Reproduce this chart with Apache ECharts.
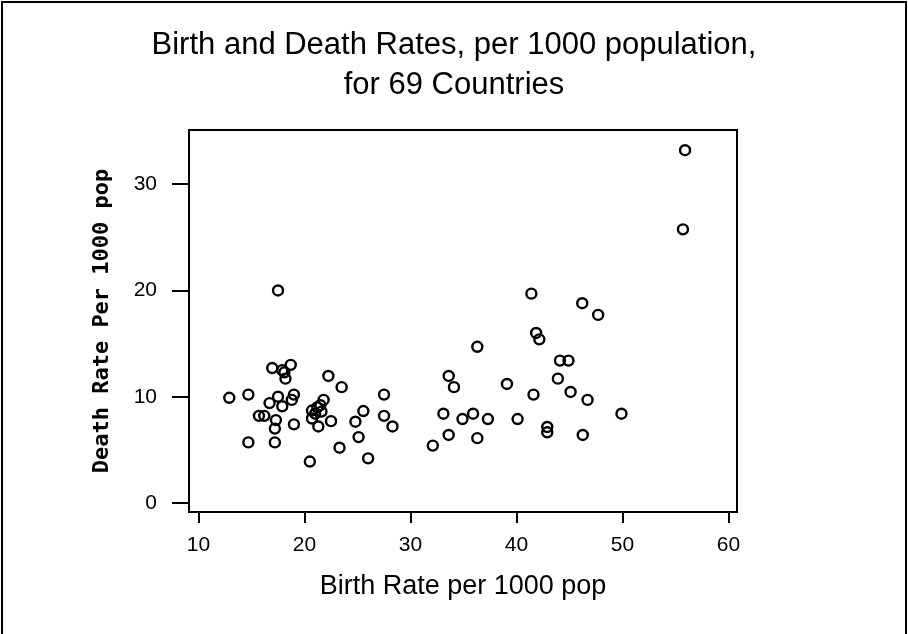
<!DOCTYPE html>
<html>
<head>
<meta charset="utf-8">
<script src="https://cdn.jsdelivr.net/npm/echarts@6/dist/echarts.min.js"></script>
<style>
html,body{margin:0;padding:0;background:#fff;}
#chart{width:908px;height:634px;}
</style>
</head>
<body>
<div id="chart"></div>
<script>
const titleLines = ["Birth and Death Rates, per 1000 population,", "for 69 Countries"];
const xTitle = "Birth Rate per 1000 pop";
const yTitle = "Death Rate Per 1000 pop";
const xTicks = [10, 20, 30, 40, 50, 60];
const yTicks = [0, 10, 20, 30];
const birthRate = [
  12.9, 14.7, 14.7, 15.7, 16.2, 16.7, 16.95, 17.2, 17.2, 17.3,
  17.5, 17.5, 17.9, 17.9, 18.1, 18.2, 18.7, 18.8, 19.0, 19.0,
  20.5, 20.7, 20.7, 21.2, 21.5, 21.8, 21.6, 21.3, 22.5, 22.25,
  23.3, 23.5, 24.8, 25.1, 25.55, 26.0, 27.5, 27.5, 28.3, 21.0,
  32.1, 33.1, 33.6, 33.6, 34.1, 34.9, 35.9, 36.3, 36.3, 37.3,
  39.1, 40.1, 41.4, 41.6, 41.85, 42.15, 42.9, 42.9, 43.9, 44.1,
  44.9, 45.1, 46.2, 46.25, 46.7, 47.7, 49.9, 55.7, 55.9
];
const deathRate = [
  9.9, 10.2, 5.7, 8.2, 8.2, 9.4, 12.7, 7.0, 5.7, 7.8,
  10.0, 20.0, 9.1, 12.5, 12.3, 11.7, 13.0, 9.7, 10.2, 7.4,
  3.9, 8.7, 7.95, 9.0, 9.2, 9.7, 8.6, 7.2, 7.7, 11.95,
  5.2, 10.9, 7.65, 6.2, 8.65, 4.2, 10.2, 8.2, 7.2, 8.4,
  5.4, 8.4, 11.95, 6.4, 10.9, 7.9, 8.4, 14.7, 6.1, 7.9,
  11.2, 7.9, 19.7, 10.2, 16.0, 15.4, 7.15, 6.65, 11.7, 13.4,
  13.4, 10.45, 18.8, 6.4, 9.7, 17.7, 8.4, 25.75, 33.2
];
const points = birthRate.map((b, i) => [b, deathRate[i]]);

const chart = echarts.init(document.getElementById('chart'), null, {renderer: 'canvas'});
const FONT = '"Liberation Sans", Arial, sans-serif';
chart.setOption({
  animation: false,
  backgroundColor: '#fff',
  title: {
    text: titleLines.join('\n'),
    left: 'center',
    top: 20,
    textStyle: {fontFamily: FONT, fontSize: 31, fontWeight: 'normal', color: '#000', lineHeight: 40}
  },
  graphic: [{
    type: 'rect', shape: {x: 2, y: 2, width: 904, height: 660},
    style: {fill: 'none', stroke: '#000', lineWidth: 2}, silent: true
  }],
  grid: {left: 189, top: 130, right: 171, bottom: 122, show: true, borderColor: '#000', borderWidth: 2, containLabel: false},
  xAxis: {
    type: 'value', min: 9.1, max: 60.8,
    name: xTitle, nameLocation: 'middle', nameGap: 61,
    nameTextStyle: {fontFamily: FONT, fontSize: 27, color: '#000'},
    axisLine: {show: true, onZero: false, lineStyle: {color: '#000', width: 2}},
    axisTick: {show: true, length: 11, inside: false, customValues: xTicks, lineStyle: {color: '#000', width: 2}},
    axisLabel: {customValues: xTicks, margin: 23, fontFamily: FONT, fontSize: 21, color: '#000'},
    splitLine: {show: false}
  },
  yAxis: {
    type: 'value', min: -0.85, max: 35.1,
    name: yTitle, nameLocation: 'middle', nameGap: 76, nameRotate: 90,
    nameTextStyle: {fontFamily: '"DejaVu Sans Mono", monospace', fontSize: 22, fontWeight: 'bold', color: '#000'},
    axisLine: {show: true, onZero: false, lineStyle: {color: '#000', width: 2}},
    axisTick: {show: true, length: 17, inside: false, customValues: yTicks, lineStyle: {color: '#000', width: 2}},
    axisLabel: {customValues: yTicks, margin: 32, fontFamily: FONT, fontSize: 21, color: '#000'},
    splitLine: {show: false}
  },
  series: [{
    type: 'scatter',
    data: points,
    symbol: 'circle',
    symbolSize: 10,
    itemStyle: {color: 'rgba(0,0,0,0)', borderColor: '#000', borderWidth: 2.4, opacity: 1},
    emphasis: {disabled: true}
  }]
});
</script>
</body>
</html>
